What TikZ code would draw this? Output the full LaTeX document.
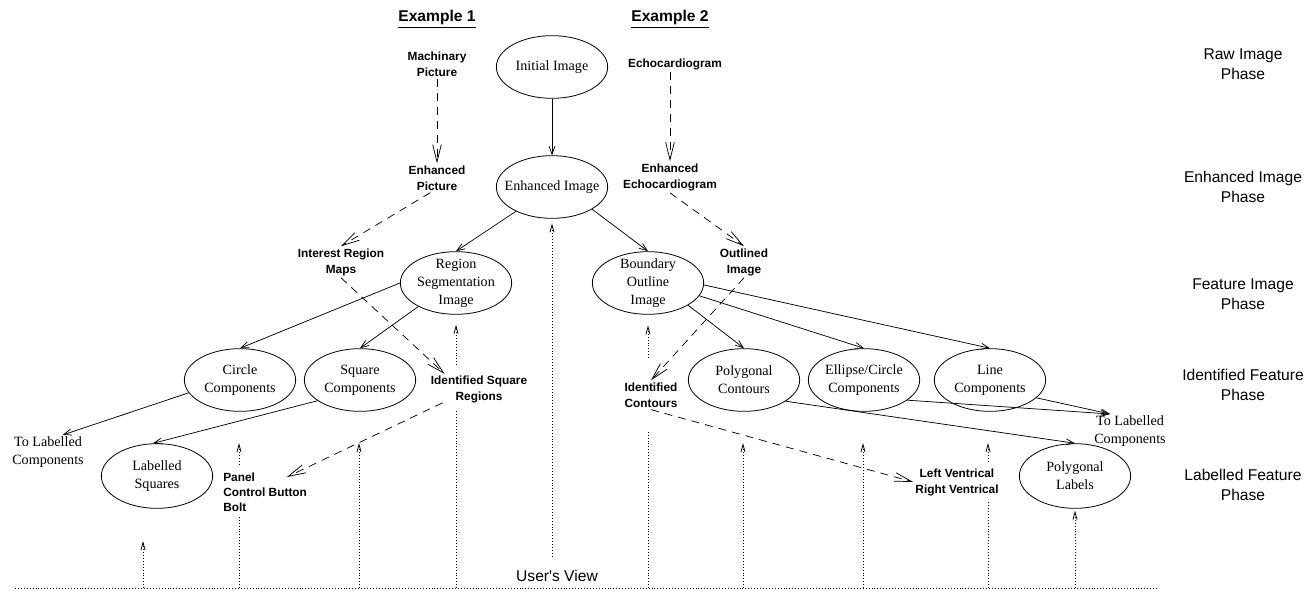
\documentclass[tikz,border=0pt]{standalone}
\usepackage{fontspec}
\setmainfont{Liberation Serif}
\setsansfont{Liberation Sans}
\usetikzlibrary{arrows.meta,shapes.geometric}
\pgfdeclarelayer{bg}
\pgfsetlayers{bg,main}
\tikzset{
 ell/.style={ellipse, draw, line width=0.6pt, minimum width=83.5pt, minimum height=47pt, inner sep=0pt},
 etxt/.style={font=\fontsize{10.6}{13.5}\selectfont, align=center, inner sep=0pt},
 lbl/.style={font=\sffamily\bfseries\fontsize{8.9}{12}\selectfont, align=center, fill=white, inner sep=1.5pt},
 hdr/.style={font=\sffamily\bfseries\fontsize{11.7}{14}\selectfont, inner sep=1pt},
 phase/.style={font=\sffamily\fontsize{11.7}{15}\selectfont, align=center},
 tlc/.style={font=\fontsize{10.6}{13.5}\selectfont, align=center, inner sep=1pt},
 sol/.style={line width=0.55pt, -{Straight Barb[length=6pt,width=4.5pt]}},
 dsh/.style={line width=0.55pt, dash pattern=on 6pt off 4.5pt, -{Straight Barb[length=13pt,width=6.5pt]}},
 dotl/.style={line width=0.6pt, dash pattern=on 0.6pt off 1.6pt},
 dota/.style={dotl, -{Straight Barb[length=5.5pt,width=3pt]}},
}
\begin{document}
\begin{tikzpicture}[x=0.75pt,y=-0.75pt]
\useasboundingbox (0,0) rectangle (1307,592);
% headers
\node[hdr] (ex1) at (437,19) {\underline{Example 1}};
\node[hdr] (ex2) at (670,19) {\underline{Example 2}};
% ellipses
\node[ell] (init) at (552,67) {};
\node[etxt] (initt) at (init) {Initial Image};
\node[ell] (enh) at (552,187) {};
\node[etxt] (enht) at (enh) {Enhanced Image};
\node[ell] (rseg) at (456,283) {};
\node[etxt] (rsegt) at (rseg) {Region\\Segmentation\\Image};
\node[ell] (bound) at (648,283) {};
\node[etxt] (boundt) at (bound) {Boundary\\Outline\\Image};
\node[ell] (circ) at (240,380) {};
\node[etxt] (circt) at (circ) {Circle\\Components};
\node[ell] (sq) at (360,380) {};
\node[etxt] (sqt) at (sq) {Square\\Components};
\node[ell] (poly) at (744,380) {};
\node[etxt] (polyt) at (poly) {Polygonal\\Contours};
\node[ell] (ellc) at (864,380) {};
\node[etxt] (ellct) at (ellc) {Ellipse/Circle\\Components};
\node[ell] (line) at (990,380) {};
\node[etxt] (linet) at (line) {Line\\Components};
\node[ell, minimum height=48.5pt] (lsq) at (157,476) {};
\node[etxt] (lsqt) at (lsq) {Labelled\\Squares};
\node[ell, minimum height=48.5pt] (plab) at (1075,476) {};
\node[etxt] (plabt) at (plab) {Polygonal\\Labels};
% example labels
\node[lbl] (mach) at (437,64) {Machinary\\Picture};
\node[lbl] (enhp) at (437,178) {Enhanced\\Picture};
\node[lbl] (echo) at (675,64) {Echocardiogram};
\node[lbl] (enhe) at (670,177) {Enhanced\\Echocardiogram};
\node[lbl] (irm) at (341,262) {Interest Region\\Maps};
\node[lbl] (outl) at (744,262) {Outlined\\Image};
\node[lbl, inner ysep=6pt] (isr) at (479,389) {Identified Square\\Regions};
\node[lbl] (icont) at (651,395) {Identified\\Contours};
\node[lbl, align=left, anchor=west, inner ysep=4pt, font=\sffamily\bfseries\fontsize{8.9}{11.3}\selectfont] (panel) at (221,492) {Panel\\Control Button\\Bolt};
\node[lbl, inner ysep=4pt] (lv) at (957,482) {Left Ventrical\\Right Ventrical};
\node[tlc] (tlcL) at (48,452) {To Labelled\\Components};
\node[tlc] (tlcR) at (1130,431) {To Labelled\\Components};
% phases
\node[phase] (ph1) at (1243,64) {Raw Image\\Phase};
\node[phase] (ph2) at (1243,186.5) {Enhanced Image\\Phase};
\node[phase] (ph3) at (1243,294.5) {Feature Image\\Phase};
\node[phase] (ph4) at (1243,384.5) {Identified Feature\\Phase};
\node[phase] (ph5) at (1243,485) {Labelled Feature\\Phase};
\node[phase, fill=white, inner sep=1pt] (uv) at (557,576) {User\textquotesingle s View};
% coordinates
\coordinate (ul) at (15,588);
\coordinate (ur) at (1157,588);
\coordinate (pnlin) at (287,477);
\coordinate (uvtop) at ([yshift=9pt]uv.north);
\coordinate (u1) at (143,588); \coordinate (t1) at (143,541);
\coordinate (u2) at (239,588); \coordinate (t2) at (239,443);
\coordinate (u3) at (359,588); \coordinate (t3) at (359,443);
\coordinate (u6) at (743,588); \coordinate (t6) at (743,443);
\coordinate (u7) at (863,588); \coordinate (t7) at (863,443);
\coordinate (u8) at (988,588); \coordinate (t8) at (988,443);
\coordinate (gapA) at (648,432);
\coordinate (gapB) at (648,358);
% solid connectors
\draw[sol] (init) -- (enh);
\draw[sol] (enh.214) -- (rseg.north);
\draw[sol] (enh.331) -- (bound.north);
\draw[sol] (rseg.west) -- (circ.north);
\draw[sol] (rseg.212) -- (sq.north);
\draw[sol] (bound.331) -- (poly.north);
\draw[sol] (bound.346) -- (ellc.north);
\draw[sol] (bound.358) -- (line.north);
\draw[sol] (circ.194) -- ([xshift=11pt]tlcL.north);
\draw[sol] (sq.206) -- (lsq.97);
\draw[sol] (ellc.335) -- ([xshift=-15pt]tlcR.north);
\draw[sol] (line.339) -- ([xshift=-15pt]tlcR.north);
\draw[sol] (poly.333) -- (plab.north);
% dashed connectors
\draw[dsh] (mach) -- (enhp);
\draw[dsh] (echo.south -| enhe.north) -- (enhe.north);
\draw[dsh] ([xshift=-5pt]enhp.south) -- (irm.north);
\draw[dsh] (irm.south) -- ([xshift=12pt,yshift=-5pt]isr.north west);
\draw[dsh] (enhe.south) -- (outl.north);
\draw[dsh] (outl.south) -- (icont.north);
\draw[dsh] ([xshift=10.5pt,yshift=6pt]isr.south west) -- (pnlin);
\draw[dsh] (icont.south) -- (lv.west);
% dotted (user's view)
\begin{pgfonlayer}{bg}
\draw[dotl] (ul) -- (ur);
\draw[dota] (u1) -- (t1);
\draw[dota] (u2) -- (t2);
\draw[dota] (u3) -- (t3);
\draw[dota, shorten >=7.5pt] (rseg.south |- ul) -- (rseg.south);
\draw[dota, shorten >=3.5pt] (uvtop -| enh.south) -- (enh.south);
\draw[dotl] (gapA |- ul) -- (gapA);
\draw[dota, shorten >=8pt] (gapB) -- (bound.south);
\draw[dota] (u6) -- (t6);
\draw[dota] (u7) -- (t7);
\draw[dota] (u8) -- (t8);
\draw[dota, shorten >=1.5pt] (plab.south |- ul) -- (plab.south);
\end{pgfonlayer}
\end{tikzpicture}
\end{document}
